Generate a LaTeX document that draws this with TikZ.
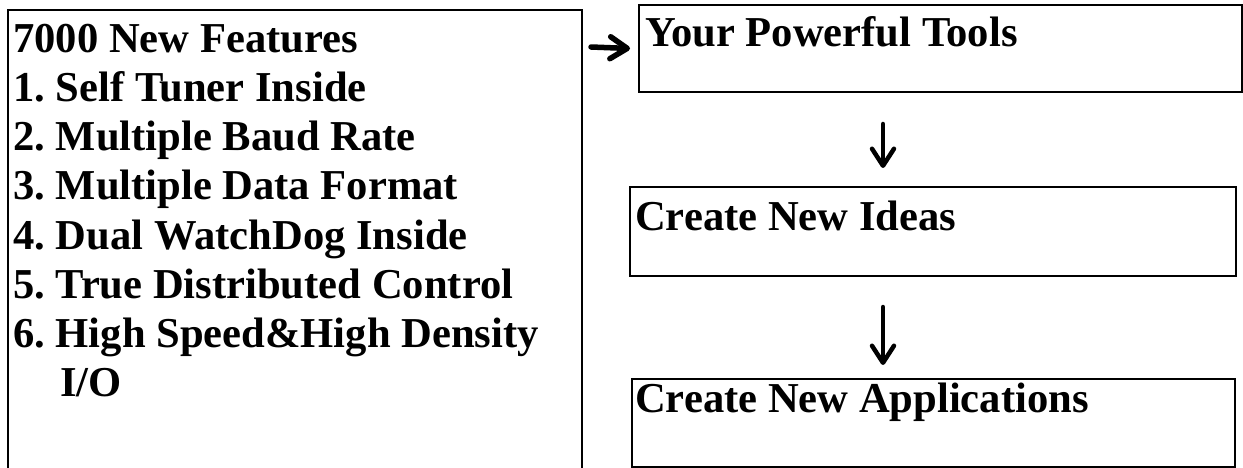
\documentclass[tikz,border=0pt]{standalone}
\usepackage{fontspec}
\setmainfont{Liberation Serif}
\usetikzlibrary{arrows.meta}
\frenchspacing
\begin{document}
\begin{tikzpicture}[x=1pt,y=1pt,
  boxst/.style={draw,line width=2pt,inner sep=0pt,anchor=north west},
  lbl/.style={anchor=base west,inner sep=0pt,font=\fontsize{42.6}{49}\selectfont\bfseries},
  arrv/.style={line width=4.5pt,line cap=round,-{Straight Barb[round,length=17pt,width=22pt,line width=4.5pt]}},
  arrh/.style={line width=5.5pt,line cap=round,-{Straight Barb[round,length=17pt,width=22pt,line width=5.5pt]}}]
\clip (0,0) rectangle (1243,-468);
\fill[white] (0,0) rectangle (1243,-468);
% left box
\node[boxst,minimum width=574pt,minimum height=520pt] (feat) at (7,-9) {};
\node[lbl] (f0) at (13,-53) {7000 New Features};
\node[lbl] (f1) at (13,-102) {1. Self Tuner Inside};
\node[lbl] (f2) at (13,-151) {2. Multiple Baud Rate};
\node[lbl] (f3) at (13,-200) {3. Multiple Data Format};
\node[lbl] (f4) at (13,-249) {4. Dual WatchDog Inside};
\node[lbl] (f5) at (13,-298) {5. True Distributed Control};
\node[lbl] (f6) at (13,-347) {6. High Speed\&High Density};
\node[lbl] (f7) at (60,-396) {I/O};
% right boxes
\node[boxst,minimum width=603pt,minimum height=87pt] (b1) at (638,-4) {};
\node[lbl] (t1) at (645,-47) {Your Powerful Tools};
\node[boxst,minimum width=606pt,minimum height=89pt] (b2) at (629,-186) {};
\node[lbl] (t2) at (635,-230) {Create New Ideas};
\node[boxst,minimum width=603pt,minimum height=88pt] (b3) at (631,-378) {};
\node[lbl] (t3) at (635,-412) {Create New Applications};
% arrows
\draw[arrh] ([xshift=8pt,yshift=-38pt]feat.north east) -- ([xshift=-8pt]b1.west);
\draw[arrv] ([xshift=-57.5pt,yshift=-31pt]b1.south) -- ([xshift=-50pt,yshift=18pt]b2.north);
\draw[arrv] ([xshift=-50pt,yshift=-30pt]b2.south) -- ([xshift=-50.5pt,yshift=13pt]b3.north);
\end{tikzpicture}
\end{document}
